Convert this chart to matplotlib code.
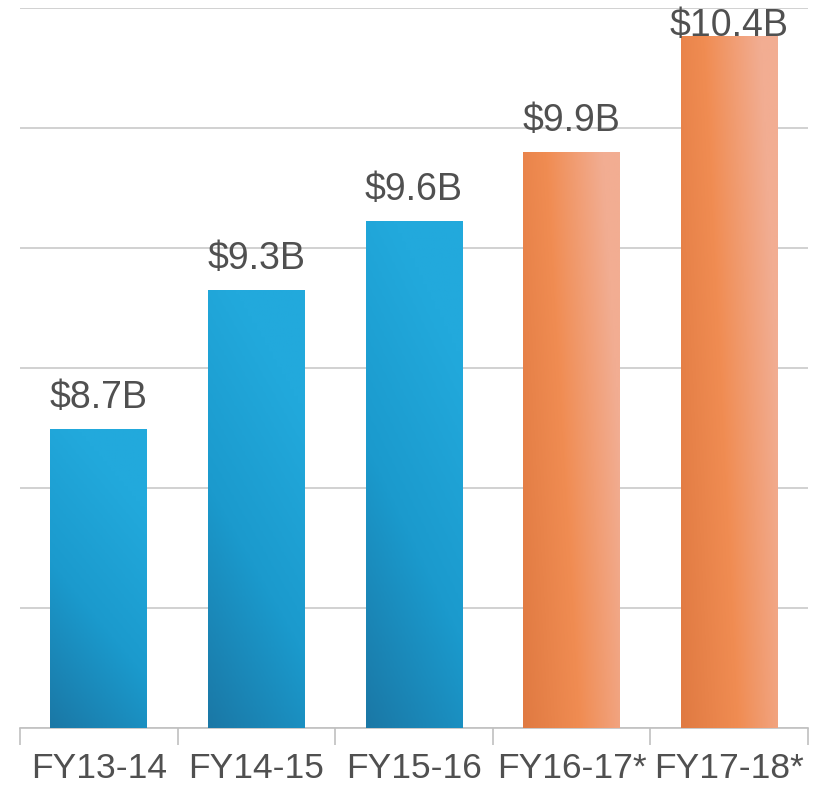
import matplotlib
matplotlib.use("Agg")
import matplotlib.pyplot as plt
import numpy as np
from matplotlib.colors import LinearSegmentedColormap

categories = ["FY13-14", "FY14-15", "FY15-16", "FY16-17*", "FY17-18*"]
values = [8.7, 9.3, 9.6, 9.9, 10.4]
labels = ["$8.7B", "$9.3B", "$9.6B", "$9.9B", "$10.4B"]
kinds = ["actual", "actual", "actual", "projected", "projected"]

W, H, DPI = 817, 789, 100
fig = plt.figure(figsize=(W / DPI, H / DPI), dpi=DPI)
ax = fig.add_axes([20 / W, 1 - 728 / H, 788 / W, 720 / H])

ymin, ymax = 7.41, 10.52
ax.set_ylim(ymin, ymax)
ax.set_xlim(-0.5, len(categories) - 0.5)

grad_colors = {
    "actual": ["#1a78a6", "#1b9acd", "#22a9dc"],
    "projected": ["#e07a42", "#f08c52", "#f2ad92"],
}

x = np.arange(len(categories))
bars = ax.bar(x, [v - ymin for v in values], bottom=ymin, width=0.615,
              color="none", edgecolor="none", zorder=3)

nx, ny = 60, 60
gx, gy = np.meshgrid(np.linspace(0, 1, nx), np.linspace(0, 1, ny))
for b, k in zip(bars, kinds):
    if k == "actual":
        grad = np.clip(0.35 * gx + 0.9 * gy, 0, 1)
    else:
        grad = np.clip(0.85 * gx + 0.3 * gy, 0, 1)
    cmap = LinearSegmentedColormap.from_list(k, grad_colors[k])
    x0, y0 = b.get_x(), b.get_y()
    w, h = b.get_width(), b.get_height()
    im = ax.imshow(grad, cmap=cmap, extent=[x0, x0 + w, y0, y0 + h],
                   origin="lower", aspect="auto", zorder=3, vmin=0, vmax=1)
    im.set_clip_path(b)

ax.set_xlim(-0.5, len(categories) - 0.5)
ax.set_ylim(ymin, ymax)

units_per_px = (ymax - ymin) / 720.0
for xi, v, lab in zip(x, values, labels):
    y_lab = min(v + 13 * units_per_px, ymax - 36 * units_per_px)
    ax.text(xi, y_lab, lab, ha="center", va="bottom", fontsize=27,
            color="#505050", family="Liberation Sans", zorder=4)

ax.set_yticks(np.linspace(ymin, ymax, 7))
ax.yaxis.grid(True, color="#c9c9c9", linewidth=1.2, zorder=0)
ax.set_axisbelow(True)
ax.tick_params(axis="y", left=False, labelleft=False)

ax.set_xticks(np.arange(-0.5, len(categories) + 0.5, 1.0))
ax.set_xticks(x, minor=True)
ax.set_xticklabels([])
ax.set_xticklabels(categories, minor=True, fontsize=25.5, color="#505050",
                   family="Liberation Sans")
ax.tick_params(axis="x", which="major", length=12, color="#c0c0c0", width=1.2)
ax.tick_params(axis="x", which="minor", length=0, pad=17)

for s in ["top", "left", "right"]:
    ax.spines[s].set_visible(False)
ax.spines["bottom"].set_color("#c0c0c0")
ax.spines["bottom"].set_linewidth(1.2)

fig.savefig("out.png", dpi=DPI)
